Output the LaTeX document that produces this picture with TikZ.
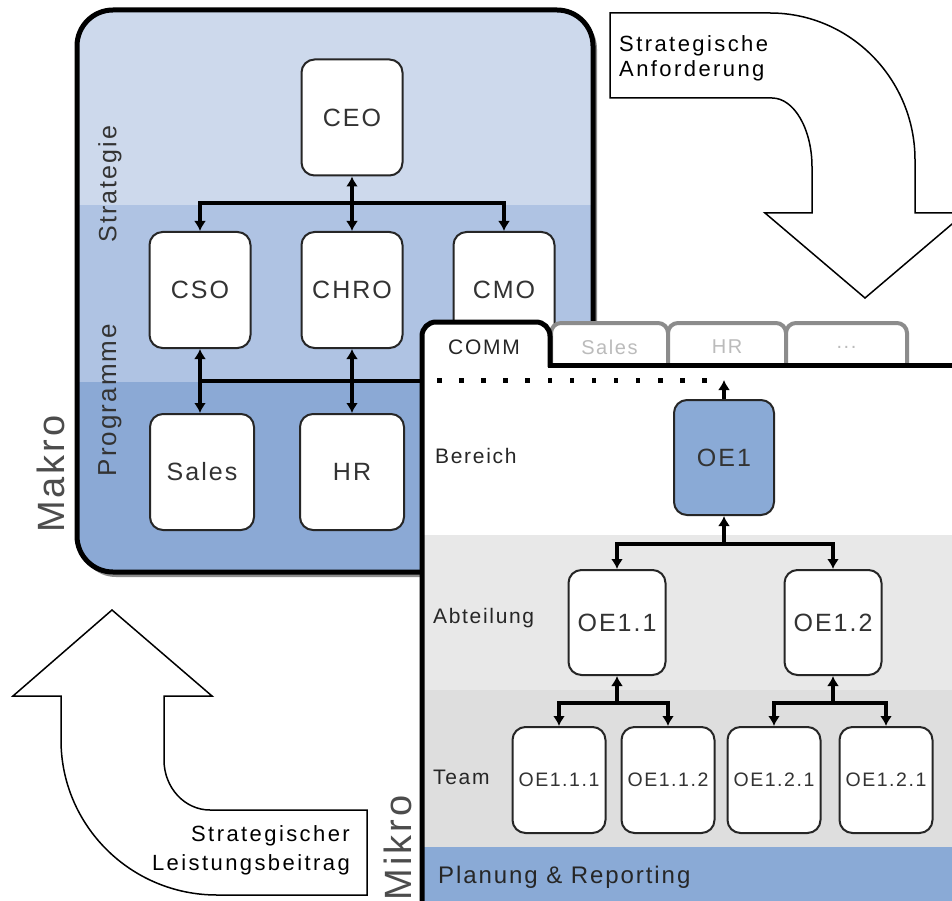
\documentclass[tikz,border=0pt]{standalone}
\usepackage{fontspec}
\setmainfont{Liberation Sans}
\newfontfamily\nodefont{Liberation Sans}[LetterSpace=8]
\newfontfamily\arrfont{Liberation Sans}[LetterSpace=11]
\usetikzlibrary{arrows.meta}
\definecolor{bandA}{HTML}{CDD9EC}
\definecolor{bandB}{HTML}{AFC3E3}
\definecolor{bandC}{HTML}{8BA9D5}
\definecolor{oeblue}{HTML}{8AAAD6}
\definecolor{greyA}{HTML}{E8E8E8}
\definecolor{greyB}{HTML}{DEDEDE}
\definecolor{tabgrey}{HTML}{8C8C8C}
\definecolor{tabtext}{HTML}{BBBBBB}
\definecolor{txt}{HTML}{333333}
\def\mytabdots{...}
\tikzset{
  orgbox/.style={draw=black!85, line width=2pt, fill=white, rounded corners=13pt,
    inner sep=0pt, text=txt, font=\nodefont\fontsize{25}{30}\selectfont},
  macrobox/.style={orgbox, minimum width=101pt, minimum height=116pt},
  oebox/.style={orgbox, minimum width=97pt, minimum height=105pt},
  teambox/.style={orgbox, minimum width=93pt, minimum height=106pt,
    font=\nodefont\fontsize{19.5}{24}\selectfont},
  link/.style={line width=4pt, draw=black, >={Latex[length=10pt,width=12pt]}},
  bigarrow/.style={draw=black, line width=1.5pt, fill=white, line join=miter},
  lvllabel/.style={anchor=base west, inner sep=0pt, text=black!85,
    font=\nodefont\fontsize{21}{25}\selectfont},
  sidelabel/.style={rotate=90, inner sep=0pt, text=txt,
    font=\nodefont\fontsize{25}{30}\selectfont},
  biglabel/.style={rotate=90, inner sep=0pt, text=black!70,
    font=\nodefont\fontsize{38}{44}\selectfont},
  tablabel/.style={inner sep=0pt, font=\nodefont\fontsize{20}{24}\selectfont},
  arrtext/.style={inner sep=0pt, text=black, font=\arrfont\fontsize{22}{26}\selectfont}
}
\begin{document}
\begin{tikzpicture}[x=1pt,y=-1pt]
\useasboundingbox (0,0) rectangle (952,901);
\clip (0,0) rectangle (952,901);
\fill[white] (0,0) rectangle (952,901);

% ---- big curved arrows
\draw[bigarrow] (610,13) -- (770,13) .. controls (850,13) and (915,79) .. (915,160)
  -- (915,213) -- (965,213) -- (865,298) -- (765,213) -- (812,213) -- (812,167)
  .. controls (812,129) and (794,98) .. (772,98) -- (610,98) -- cycle;
\node[arrtext, anchor=base west] (reqA) at (619,52) {Strategische};
\node[arrtext, anchor=base west] (reqB) at (619,77) {Anforderung};

\draw[bigarrow] (112,610) -- (212,696) -- (164,696) -- (164,760)
  .. controls (164,787.6) and (184.6,810) .. (210,810) -- (367,810) -- (367,895)
  -- (217,895) .. controls (130.8,895) and (61,825.6) .. (61,740) -- (61,696)
  -- (13,696) -- cycle;
\node[arrtext, anchor=base east] (contA) at (350,841) {Strategischer};
\node[arrtext, anchor=base east] (contB) at (350,870) {Leistungsbeitrag};

% ---- macro panel
\fill[black!45, rounded corners=36pt] (80,13) rectangle (597,577);
\begin{scope}
  \clip[rounded corners=36pt] (77,10) rectangle (593,572);
  \fill[bandA] (70,0) rectangle (600,205);
  \fill[bandB] (70,205) rectangle (600,382);
  \fill[bandC] (70,382) rectangle (600,580);
\end{scope}
\draw[line width=5pt, rounded corners=36pt] (77,10) rectangle (593,572);

\node[sidelabel] (lstrat) at (110,184) {Strategie};
\node[sidelabel, font=\nodefont\fontsize{26}{30}\selectfont] (lprog) at (110,400) {Programme};
\node[biglabel] (lmakro) at (51,474) {Makro};

\node[macrobox] (CEO) at (352,117.5) {CEO};
\node[macrobox] (CSO) at (200,290) {CSO};
\node[macrobox] (CHRO) at (352,290) {CHRO};
\node[macrobox] (CMO) at (504,290) {CMO};
\node[macrobox, minimum width=104pt] (Sales) at (202,472) {Sales};
\node[macrobox, minimum width=104pt] (HR) at (352,472) {HR};

\coordinate (bar1) at (0,203);
\coordinate (bar2) at (0,381);
\coordinate (bar2end) at (440,381);
\draw[link,<->] (CEO.south) -- (CHRO.north);
\draw[link,<->] (CSO.north) -- (CSO.north |- bar1) -- (CMO.north |- bar1) -- (CMO.north);
\draw[link] (CSO.south |- bar2) -- (bar2end);
\draw[link,<->] (CSO.south) -- (CSO.south |- Sales.north);
\draw[link,<->] (CHRO.south) -- (HR.north);

% ---- micro panel
\fill[white] (422,365) rectangle (960,535);
\fill[greyA] (422,535) rectangle (960,690);
\fill[greyB] (422,690) rectangle (960,847);
\fill[oeblue] (422,847) rectangle (960,910);

\foreach \a/\b/\t/\n in {551/668/Sales/tabS, 668/786/HR/tabH, 786/907/\mytabdots/tabD}{
  \draw[tabgrey, line width=4pt, fill=white, rounded corners=10pt]
    (\a,366) -- (\a,323) -- (\b,323) -- (\b,366);
  \node[tablabel, text=tabtext] (\n) at ({(\a+\b)/2},347) {\t};
}
\fill[white, rounded corners=14pt] (422,380) -- (422,322) -- (550,322) -- (550,380) -- cycle;
\draw[line width=5pt, rounded corners=14pt] (422,910) -- (422,322) -- (550,322) -- (550,367);
\draw[line width=5pt] (548,365) -- (960,365);
\node[tablabel, text=black!85, font=\nodefont\fontsize{21}{24}\selectfont] (tabC) at (484,347) {COMM};

\foreach \i in {0,1,2,3,4,5,6,7,8,9,10,11,12}{
  \fill ({437+\i*22.1},378) rectangle ++(4.5,4.5);
}

\node[lvllabel] (lber) at (435,463) {Bereich};
\node[lvllabel] (labt) at (433,623) {Abteilung};
\node[lvllabel] (lteam) at (433,784) {Team};
\node[lvllabel, font=\nodefont\fontsize{24}{28}\selectfont] (lplan) at (438,883) {Planung \& Reporting};
\node[biglabel] (lmikro) at (398,848) {Mikro};

\node[orgbox, fill=oeblue, minimum width=100pt, minimum height=115pt] (OE1) at (724,457.5) {OE1};
\node[oebox] (OE11) at (617,622.5) {OE1.1};
\node[oebox] (OE12) at (833,622.5) {OE1.2};
\node[teambox] (T111) at (559,780) {OE1.1.1};
\node[teambox] (T112) at (668,780) {OE1.1.2};
\node[teambox] (T121) at (774,780) {OE1.2.1};
\node[teambox] (T122) at (886,780) {OE1.2.1};

\coordinate (dotend) at (724,380);
\coordinate (bar3) at (0,544);
\coordinate (bar4) at (0,703);
\draw[link,->] (OE1.north) -- (dotend);
\draw[link,<-] (OE1.south) -- (OE1.south |- bar3);
\draw[link,<->] (OE11.north) -- (OE11.north |- bar3) -- (OE12.north |- bar3) -- (OE12.north);
\draw[link,<-] (OE11.south) -- (OE11.south |- bar4);
\draw[link,<-] (OE12.south) -- (OE12.south |- bar4);
\draw[link,<->] (T111.north) -- (T111.north |- bar4) -- (T112.north |- bar4) -- (T112.north);
\draw[link,<->] (T121.north) -- (T121.north |- bar4) -- (T122.north |- bar4) -- (T122.north);
\end{tikzpicture}
\end{document}
